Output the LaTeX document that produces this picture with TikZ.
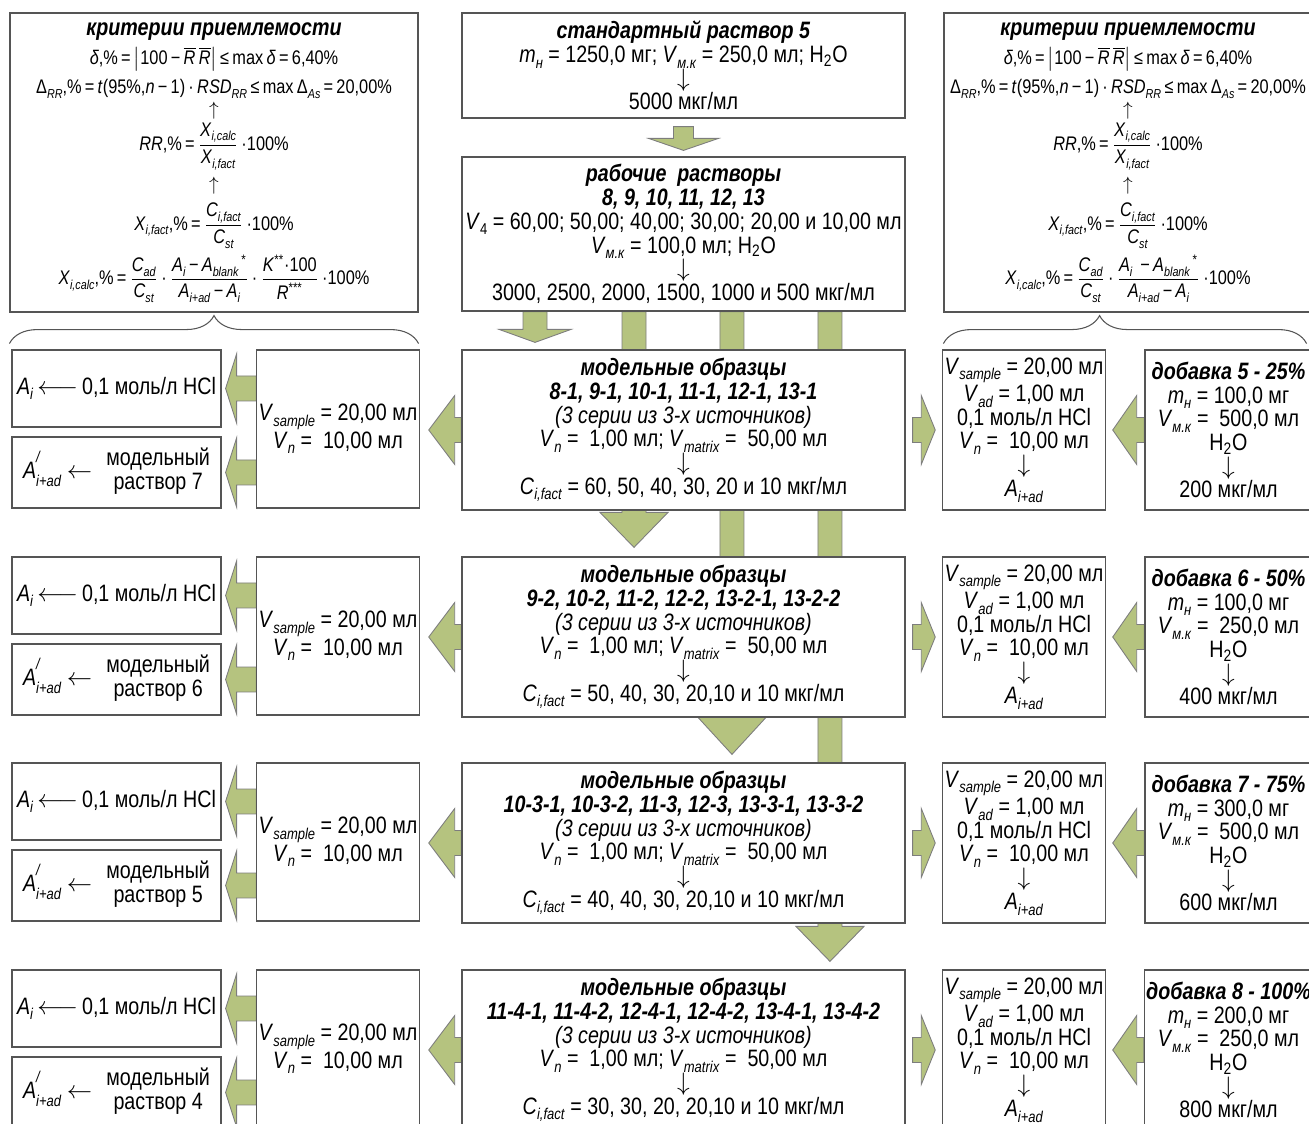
\documentclass[tikz,border=0pt]{standalone}
\usepackage{fontspec}
\setmainfont[FakeStretch=0.83]{Liberation Sans}
\usepackage{amsmath}
\usetikzlibrary{positioning, calc, backgrounds, decorations.pathreplacing}

\definecolor{arrowgreen}{RGB}{181,195,127}
\definecolor{arrowline}{RGB}{125,125,125}
\definecolor{boxline}{RGB}{85,85,85}

% italic letter with small italic index
\newcommand\vs[2]{\textit{#1}\raisebox{-0.45ex}{\scalebox{0.66}{\textit{#2}}}}

\tikzset{
  ahl/.store in=\ahl, ahw/.store in=\ahw, abw/.store in=\abw,
  ahl=0.5cm, ahw=0.69cm, abw=0.25cm,
  blockarrow/.style={fill=arrowgreen, draw=arrowline, line width=0.5pt,
    to path={($(\tikztotarget)!\ahl!(\tikztostart)$) coordinate (hb)
      (\tikztostart) -- ($(\tikztostart)!\abw!90:(\tikztotarget)$)
      -- ($(hb)!\abw!-90:(\tikztostart)$) -- ($(hb)!\ahw!-90:(\tikztostart)$)
      -- (\tikztotarget) -- ($(hb)!\ahw!90:(\tikztostart)$)
      -- ($(hb)!\abw!90:(\tikztostart)$) -- ($(\tikztostart)!\abw!-90:(\tikztotarget)$)
      -- cycle}},
  sidearrow/.style={blockarrow, abw=0.25cm, ahw=0.69cm},
  colarrow/.style={blockarrow, abw=0.24cm, ahw=0.68cm, ahl=0.7cm},
  flatarrow/.style={blockarrow, abw=0.24cm, ahw=0.72cm, ahl=0.26cm}
}

\begin{document}
\begin{tikzpicture}[x=0.02cm,y=-0.02cm,
  box/.style={draw=boxline, line width=0.7pt, fill=white, align=center, inner sep=1pt,
    font={\fontsize{13.5}{13.5}\selectfont}},
  critbox/.style={box, minimum height=5.98cm, font={\fontsize{11.2}{13.6}\selectfont}},
  centerbox/.style={box, minimum width=8.86cm},
  critbrace/.style={decorate, draw=boxline, line width=0.6pt}]
\useasboundingbox (0,0) rectangle (1309,1124);

% criteria, left
\node[critbox, minimum width=8.16cm] (critL) at (214,162.5) {%
{\fontsize{13.5}{13.5}\selectfont\textbf{\textit{критерии приемлемости}}}\\[3pt]
\textit{δ},\%\,=\,$\left|\text{100\,−\,}\overline{\text{\textit{R}}}\,\overline{\text{\textit{R}}}\right|$\,≤\,max\,\textit{δ}\,=\,6,40\%\\[3pt]
Δ\raisebox{-0.45ex}{\scalebox{0.66}{\textit{RR}}},\%\,=\,\textit{t}(95\%,\textit{n}\,−\,1)\,·\,\vs{RSD}{RR}\,≤\,max\,Δ\raisebox{-0.45ex}{\scalebox{0.66}{\textit{As}}}\,=\,20,00\%\\[-1pt]
$\uparrow$\\[1pt]
\textit{RR},\%\,=\,$\dfrac{\text{\vs{X}{i,calc}}}{\text{\vs{X}{i,fact}}}$\,·100\%\\[3pt]
$\uparrow$\\[4pt]
\vs{X}{i,fact},\%\,=\,$\dfrac{\text{\vs{C}{i,fact}}}{\text{\vs{C}{st}}}$\,·100\%\\[3pt]
\vs{X}{i,calc},\%\,=\,$\dfrac{\text{\vs{C}{ad}}}{\text{\vs{C}{st}}}$\,·\,$\dfrac{\text{\vs{A}{i}\,−\,\vs{A}{blank}\textsuperscript{\,*}}}{\text{\vs{A}{i+ad}\,−\,\vs{A}{i}}}$\,·\,$\dfrac{\text{\textit{K}\textsuperscript{**}·100}}{\text{\textit{R}\textsuperscript{***}}}$\,·100\%};

% criteria, right
\node[critbox, minimum width=7.36cm] (critR) at (1128,162.5) {%
{\fontsize{13.5}{13.5}\selectfont\textbf{\textit{критерии приемлемости}}}\\[3pt]
\textit{δ},\%\,=\,$\left|\text{100\,−\,}\overline{\text{\textit{R}}}\,\overline{\text{\textit{R}}}\right|$\,≤\,max\,\textit{δ}\,=\,6,40\%\\[3pt]
Δ\raisebox{-0.45ex}{\scalebox{0.66}{\textit{RR}}},\%\,=\,\textit{t}(95\%,\textit{n}\,−\,1)\,·\,\vs{RSD}{RR}\,≤\,max\,Δ\raisebox{-0.45ex}{\scalebox{0.66}{\textit{As}}}\,=\,20,00\%\\[-1pt]
$\uparrow$\\[1pt]
\textit{RR},\%\,=\,$\dfrac{\text{\vs{X}{i,calc}}}{\text{\vs{X}{i,fact}}}$\,·100\%\\[3pt]
$\uparrow$\\[4pt]
\vs{X}{i,fact},\%\,=\,$\dfrac{\text{\vs{C}{i,fact}}}{\text{\vs{C}{st}}}$\,·100\%\\[3pt]
\vs{X}{i,calc},\%\,=\,$\dfrac{\text{\vs{C}{ad}}}{\text{\vs{C}{st}}}$\,·\,$\dfrac{\text{\vs{A}{i}\ \,−\,\vs{A}{blank}\textsuperscript{\,*}}}{\text{\vs{A}{i+ad}\,−\,\vs{A}{i}}}$\,·100\%};

% standard and working solutions
\node[centerbox, minimum height=2.1cm] (std) at (683.5,65.5) {%
\textbf{\textit{стандартный раствор 5}}\\
\vs{m}{н} = 1250,0 мг; \vs{V}{м.к} = 250,0 мл; H\textsubscript{2}O\\
$\downarrow$\\
5000 мкг/мл};
\node[centerbox, minimum height=3.08cm] (work) at (683.5,234) {%
\textbf{\textit{рабочие\ \ растворы}}\\
\textbf{\textit{8, 9, 10, 11, 12, 13}}\\
\textit{V}\raisebox{-0.45ex}{\scalebox{0.66}{4}} = 60,00; 50,00; 40,00; 30,00; 20,00 и 10,00 мл\\
\vs{V}{м.к} = 100,0 мл; H\textsubscript{2}O\\
$\downarrow$\\
3000, 2500, 2000, 1500, 1000 и 500 мкг/мл};

\draw[critbrace, decoration={brace, amplitude=0.56cm}]
  ([yshift=-0.62cm]critL.south west) -- ([yshift=-0.62cm]critL.south east);
\draw[critbrace, decoration={brace, amplitude=0.56cm, aspect=0.43}]
  ([yshift=-0.62cm]critR.south west) -- ([yshift=-0.62cm,xshift=-0.12cm]critR.south east);

% model samples
\foreach \row/\ytop/\smp/\cfac/\sol/\adname/\mass/\vol/\conc in {
  1/350/{8-1, 9-1, 10-1, 11-1, 12-1, 13-1}/{60, 50, 40, 30, 20 и 10}/7/{5 - 25}/{100,0}/{500,0}/200,
  2/557/{9-2, 10-2, 11-2, 12-2, 13-2-1, 13-2-2}/{50, 40, 30, 20,10 и 10}/6/{6 - 50}/{100,0}/{250,0}/400,
  3/763/{10-3-1, 10-3-2, 11-3, 12-3, 13-3-1, 13-3-2}/{40, 40, 30, 20,10 и 10}/5/{7 - 75}/{300,0}/{500,0}/600,
  4/970/{11-4-1, 11-4-2, 12-4-1, 12-4-2, 13-4-1, 13-4-2}/{30, 30, 20, 20,10 и 10}/4/{8 - 100}/{200,0}/{250,0}/800}
{
\node[box, minimum width=4.18cm, minimum height=1.54cm] (aL\row) at (116.5,\ytop+38.5)
  {\vs{A}{i}\,$\longleftarrow$\,0,1 моль/л HCl};
\node[box, minimum width=4.18cm, minimum height=1.42cm] (bL\row) at (116.5,\ytop+122.5)
  {\textit{A}\rlap{\raisebox{1.3ex}{\scalebox{0.66}{\textit{/}}}}\raisebox{-0.6ex}{\scalebox{0.66}{\textit{i+ad}}} $\leftarrow$\hspace{0.6em}\begin{tabular}{@{}c@{}}модельный\\ раствор \sol\end{tabular}};
\node[box, minimum width=3.2cm, minimum height=3.16cm] (vsL\row) at (338,\ytop+79)
  {\vs{V}{sample} = 20,00 мл\\ \vs{V}{n} =\ \ 10,00 мл};
\node[centerbox, minimum height=3.2cm] (mid\row) at (683.5,\ytop+80) {%
  \textbf{\textit{модельные образцы}}\\
  \textbf{\textit{\smp}}\\
  \textit{(3 серии из 3-х источников)}\\
  \vs{V}{n} =\ \ 1,00 мл; \vs{V}{matrix} =\ \ 50,00 мл\\
  $\downarrow$\\
  \vs{C}{i,fact} = \cfac\ мкг/мл};
\node[box, minimum width=3.2cm, minimum height=3.2cm] (vsR\row) at (1024,\ytop+80) {%
  \vs{V}{sample} = 20,00 мл\\ \vs{V}{ad} = 1,00 мл\\ 0,1 моль/л HCl\\
  \vs{V}{n} =\ \ 10,00 мл\\ $\downarrow$\\ \vs{A}{i+ad}};
\node[box, minimum width=3.34cm, minimum height=3.2cm] (add\row) at (1228.5,\ytop+80) {%
  \textbf{\textit{добавка \adname\%}}\\ \vs{m}{н} = \mass\ мг\\
  \vs{V}{м.к} =\ \ \vol\ мл\\ H\textsubscript{2}O\\ $\downarrow$\\ \conc\ мкг/мл};
}

% block arrows behind the boxes
\begin{scope}[on background layer]
\draw[flatarrow, abw=0.2cm, ahw=0.7cm, ahl=0.24cm]
  ([yshift=-0.16cm]std.south) to ([yshift=0.12cm]work.north);
\coordinate (k1) at ([xshift=-2.97cm]work.south);
\coordinate (k2) at ([xshift=-0.99cm]work.south);
\coordinate (k3) at ([xshift=0.97cm]work.south);
\coordinate (k4) at ([xshift=2.93cm]work.south);
\draw[flatarrow] (k1) to ($(k1 |- mid1.north)+(0,-7)$);
\draw[colarrow] (k2) to ($(k2 |- mid2.north)+(0,-9)$);
\draw[colarrow, ahl=0.74cm] (k3) to ($(k3 |- mid3.north)+(0,-8)$);
\draw[colarrow] (k4) to ($(k4 |- mid4.north)+(0,-8)$);
\foreach \row in {1,...,4} {
  \draw[sidearrow, ahl=0.22cm] (vsL\row.west |- aL\row.east) to ([xshift=0.08cm]aL\row.east);
  \draw[sidearrow, ahl=0.22cm] (vsL\row.west |- bL\row.east) to ([xshift=0.08cm]bL\row.east);
  \draw[sidearrow, ahl=0.52cm] (mid\row.west) to ([xshift=0.18cm]vsL\row.east |- mid\row.west);
  \draw[sidearrow, ahl=0.28cm] ([xshift=0.14cm]mid\row.east) to ([xshift=-0.14cm]vsR\row.west |- mid\row.east);
  \draw[sidearrow, ahl=0.48cm] (add\row.west) to ([xshift=0.14cm]vsR\row.east |- add\row.west);
}
\end{scope}
\end{tikzpicture}
\end{document}
